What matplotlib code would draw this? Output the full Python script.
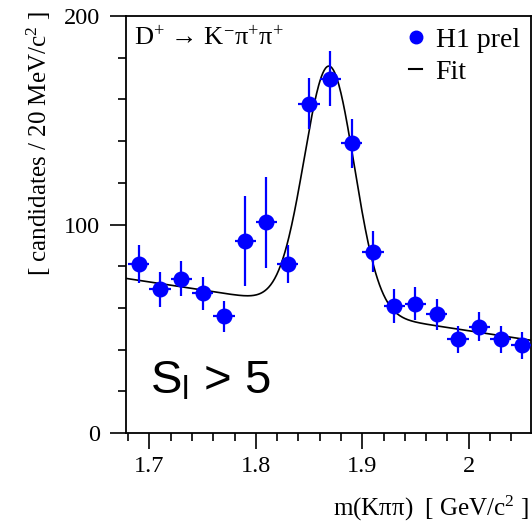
import numpy as np
import matplotlib
matplotlib.use("Agg")
import matplotlib.pyplot as plt
from matplotlib.lines import Line2D
from matplotlib.ticker import MultipleLocator

# data: bin centres (GeV/c^2), counts and errors
mass = [1.69, 1.71, 1.73, 1.75, 1.77, 1.79, 1.81, 1.83, 1.85, 1.87,
        1.89, 1.91, 1.93, 1.95, 1.97, 1.99, 2.01, 2.03, 2.05]
counts = [81, 69, 74, 67, 56, 92, 101, 81, 158, 170,
          139, 87, 61, 62, 57, 45, 51, 45, 42]
errors = [9, 8.4, 8.5, 8, 7.5, 21.5, 22, 9, 12.4, 13.2,
          11.7, 9.7, 8.2, 7.8, 7.5, 6.4, 7.1, 6.4, 6.4]
bin_half = 0.01

# fit parameters (gaussian + linear background)
fit_mean = 1.869
fit_sigma = 0.0235
fit_amp = 116.7
bg_at_ref = 74.0
bg_ref = 1.68
bg_slope = -78.0

serif = ["Liberation Serif", "DejaVu Serif"]
plt.rcParams["font.family"] = serif
plt.rcParams["mathtext.fontset"] = "custom"
plt.rcParams["mathtext.rm"] = "Liberation Serif"
plt.rcParams["mathtext.it"] = "Liberation Serif:italic"

fig = plt.figure(figsize=(5.32, 5.28), dpi=100)
ax = fig.add_axes([0.2368, 0.1799, 0.7612, 0.7898])

blue = "#0000ff"
ax.errorbar(mass, counts, yerr=errors, xerr=bin_half, fmt="o", color=blue,
            ms=10.5, elinewidth=1.6, capsize=0, zorder=3)

xs = np.linspace(1.678, 2.0585, 600)
fit = bg_at_ref + bg_slope * (xs - bg_ref) + fit_amp * np.exp(-0.5 * ((xs - fit_mean) / fit_sigma) ** 2)
ax.plot(xs, fit, color="black", lw=1.2, zorder=2)

ax.set_xlim(1.678, 2.0585)
ax.set_ylim(0, 200)
ax.xaxis.set_minor_locator(MultipleLocator(0.02))
ax.yaxis.set_major_locator(MultipleLocator(100))
ax.yaxis.set_minor_locator(MultipleLocator(20))
ax.set_xticks([1.7, 1.8, 1.9, 2.0])
ax.set_xticklabels(["1.7", "1.8", "1.9", "2"])
ax.tick_params(which="major", direction="out", length=11.5, width=1.2, labelsize=17.5, pad=5)
ax.tick_params(which="minor", direction="out", length=5.8, width=1.2)
ax.tick_params(axis="y", which="major", pad=7)
for s in ax.spines.values():
    s.set_linewidth(1.3)

ax.set_ylabel("[ candidates / 20 MeV/c$^{2}$ ]", fontsize=18)
ax.yaxis.set_label_coords(-0.18, 1.01)
ax.yaxis.label.set_horizontalalignment("right")
ax.set_xlabel("m(Kππ)  [ GeV/c$^{2}$ ]", fontsize=18)
ax.xaxis.set_label_coords(0.995, -0.145)
ax.xaxis.label.set_horizontalalignment("right")

ax.text(0.02, 0.975, "D$^{+}$ → K$^{-}$π$^{+}$π$^{+}$", transform=ax.transAxes,
        fontsize=19, va="top", ha="left")

ax.text(0.06, 0.07, r"S$_{\mathregular{l}}$ > 5", transform=ax.transAxes,
        fontsize=34, va="bottom", ha="left", family=["Liberation Sans", "DejaVu Sans"])

handles = [Line2D([], [], marker="o", color=blue, ls="none", ms=9),
           Line2D([], [], color="black", lw=1.5)]
ax.legend(handles, ["H1 prel", "Fit"], loc="upper right", frameon=False,
          fontsize=20, handlelength=0.45, handletextpad=0.5, labelspacing=0.25,
          borderaxespad=0.15, borderpad=0.25)

fig.savefig("out.png", dpi=100)
